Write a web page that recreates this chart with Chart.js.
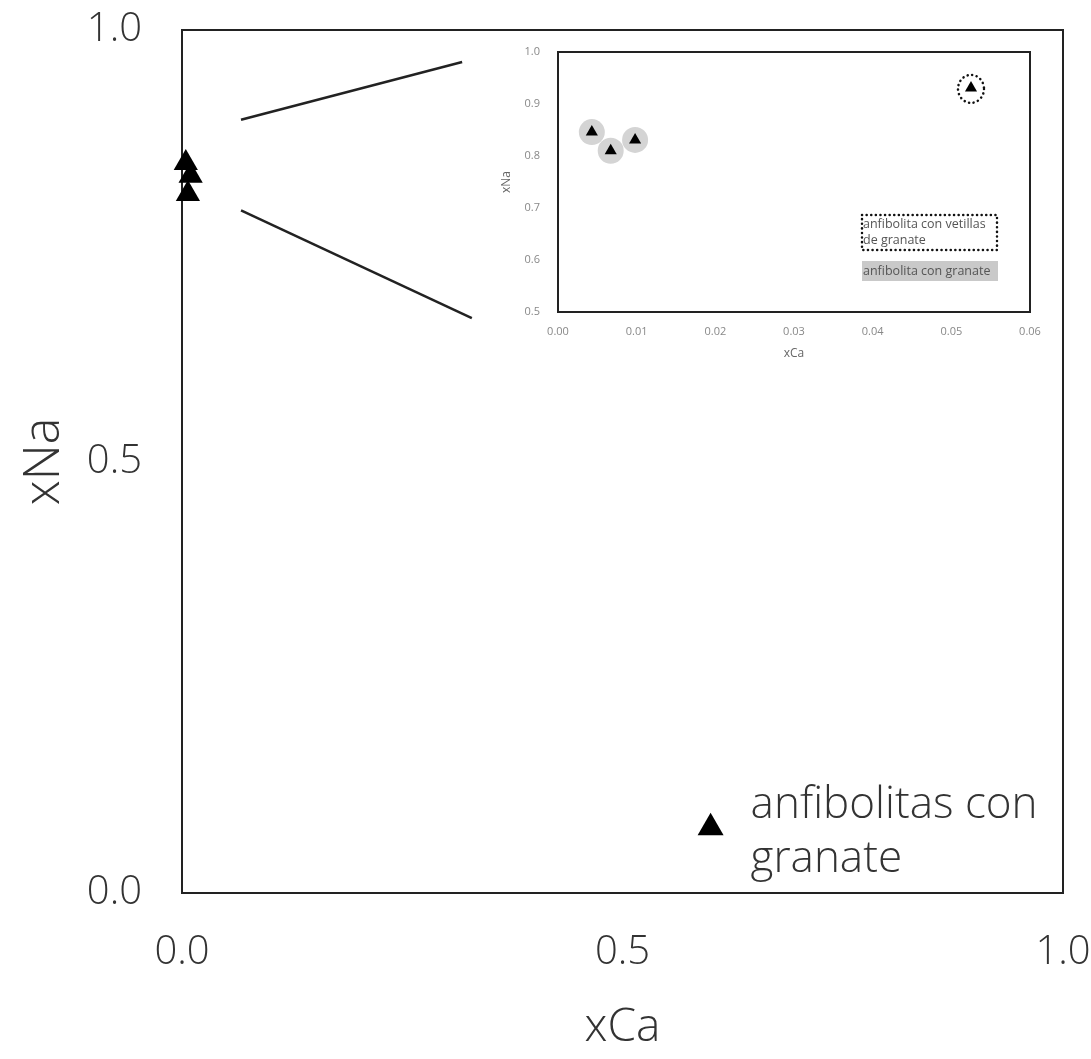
<!DOCTYPE html>
<html>
<head>
<meta charset="utf-8">
<script src="https://cdn.jsdelivr.net/npm/chart.js@4/dist/chart.umd.min.js"></script>
<style>
  body { margin: 0; background: #fff; }
  #wrap { position: relative; width: 1091px; height: 1059px; }
  #mainChart { position: absolute; left: 0; top: 0; }
  #insetChart { position: absolute; left: 470px; top: 30px; }
</style>
</head>
<body>
<div id="wrap">
  <canvas id="mainChart" width="1091" height="1059"></canvas>
  <canvas id="insetChart" width="580" height="345"></canvas>
</div>
<script>
// Data
const garnetXCa = [0.0043, 0.0067, 0.0098];
const garnetXNa = [0.846, 0.810, 0.831];
const veinXCa = [0.0525];
const veinXNa = [0.931];

const mainLegendText = ['anfibolitas con', 'granate'];
const insetVeinLegend = ['anfibolita con vetillas', 'de granate'];
const insetGarnetLegend = 'anfibolita con granate';

const toPoints = (xs, ys) => xs.map((x, i) => ({ x: x, y: ys[i] }));

const FONT = "'Open Sans', 'DejaVu Sans', sans-serif";

function drawTriangle(ctx, x, y, r) {
    ctx.beginPath();
    ctx.moveTo(x, y - r);
    ctx.lineTo(x + Math.sin(2 * Math.PI / 3) * r, y + r / 2);
    ctx.lineTo(x - Math.sin(2 * Math.PI / 3) * r, y + r / 2);
    ctx.closePath();
    ctx.fill();
}

// frame around the plot area
const framePlugin = {
    id: 'frame',
    beforeDatasetsDraw(chart, args, opts) {
        const { ctx, chartArea: a } = chart;
        ctx.save();
        ctx.strokeStyle = '#222';
        ctx.lineWidth = opts.width || 2;
        ctx.strokeRect(a.left, a.top, a.right - a.left, a.bottom - a.top);
        ctx.restore();
    }
};

// zoom lines + legend on main chart
const mainExtras = {
    id: 'mainExtras',
    afterDatasetsDraw(chart) {
        const { ctx, scales: { x, y } } = chart;
        ctx.save();
        ctx.strokeStyle = '#222';
        ctx.lineWidth = 2.5;
        [[0.067, 0.896, 0.318, 0.963], [0.067, 0.791, 0.329, 0.666]].forEach((l) => {
            ctx.beginPath();
            ctx.moveTo(x.getPixelForValue(l[0]), y.getPixelForValue(l[1]));
            ctx.lineTo(x.getPixelForValue(l[2]), y.getPixelForValue(l[3]));
            ctx.stroke();
        });
        // legend
        const lx = x.getPixelForValue(0.6);
        const ly = y.getPixelForValue(0.078);
        ctx.fillStyle = '#000';
        drawTriangle(ctx, lx, ly + 2, 15);
        ctx.fillStyle = '#333';
        ctx.font = '300 44px ' + FONT;
        ctx.textBaseline = 'middle';
        ctx.fillText(mainLegendText[0], lx + 40, ly - 20);
        ctx.fillText(mainLegendText[1], lx + 40, ly + 34);
        ctx.restore();
    }
};

new Chart(document.getElementById('mainChart'), {
    type: 'scatter',
    data: {
        datasets: [{
            label: 'anfibolitas con granate',
            data: toPoints(garnetXCa, garnetXNa),
            pointStyle: 'triangle',
            pointRadius: 14,
            backgroundColor: '#000',
            borderColor: '#000',
            borderWidth: 0,
            clip: false
        }]
    },
    options: {
        responsive: false,
        animation: false,
        layout: { padding: { top: 30, right: 28 } },
        plugins: { legend: { display: false }, tooltip: { enabled: false }, frame: { width: 2 } },
        scales: {
            x: {
                min: 0, max: 1,
                afterFit: (s) => { s.height = 166; s.paddingLeft = 0; s.paddingRight = 0; },
                grid: { display: false, drawTicks: false },
                border: { display: false },
                ticks: { stepSize: 0.5, padding: 36, color: '#333', font: { family: FONT, size: 40, weight: '300' },
                    callback: (v) => v.toFixed(1) },
                title: { display: true, text: 'xCa', color: '#333', font: { family: FONT, size: 46, weight: '300' },
                    padding: { top: 0, bottom: 4 } }
            },
            y: {
                min: 0, max: 1,
                afterFit: (s) => { s.width = 182; s.paddingTop = 0; s.paddingBottom = 0; },
                grid: { display: false, drawTicks: false },
                border: { display: false },
                ticks: { stepSize: 0.5, padding: 40, color: '#333', font: { family: FONT, size: 40, weight: '300' },
                    callback: (v) => v.toFixed(1) },
                title: { display: true, text: 'xNa', color: '#333', font: { family: FONT, size: 50, weight: '300' },
                    padding: { top: 15, bottom: 0 } }
            }
        }
    },
    plugins: [framePlugin, mainExtras]
});

// inset extras: dotted circle and legend boxes
const insetExtras = {
    id: 'insetExtras',
    afterDatasetsDraw(chart) {
        const { ctx, chartArea: a } = chart;
        const meta = chart.getDatasetMeta(2);
        ctx.save();
        ctx.strokeStyle = '#111';
        ctx.lineWidth = 2.5;
        ctx.lineCap = 'round';
        ctx.setLineDash([0.1, 4.5]);
        meta.data.forEach((p) => {
            ctx.beginPath();
            ctx.ellipse(p.x, p.y + 1, 13, 14, 0, 0, Math.PI * 2);
            ctx.stroke();
        });
        // legend: dotted box
        const bx = a.left + 304, by = a.top + 163;
        ctx.beginPath();
        ctx.rect(bx, by, 135, 35);
        ctx.stroke();
        ctx.setLineDash([]);
        // legend: gray box
        ctx.fillStyle = '#c9c9c9';
        ctx.fillRect(bx, a.top + 209, 136, 20);
        ctx.fillStyle = '#555';
        ctx.font = '12.5px ' + FONT;
        ctx.textBaseline = 'middle';
        ctx.fillText(insetVeinLegend[0], bx + 1, by + 9);
        ctx.fillText(insetVeinLegend[1], bx + 1, by + 25);
        ctx.fillText(insetGarnetLegend, bx + 1, a.top + 219);
        ctx.restore();
    }
};

const insetTickFont = { family: FONT, size: 11 };

new Chart(document.getElementById('insetChart'), {
    type: 'scatter',
    data: {
        datasets: [
            {
                label: 'halo',
                data: toPoints(garnetXCa, garnetXNa),
                pointStyle: 'circle',
                pointRadius: 13,
                backgroundColor: '#d4d4d4',
                borderWidth: 0,
                order: 3
            },
            {
                label: 'anfibolita con granate',
                data: toPoints(garnetXCa, garnetXNa),
                pointStyle: 'triangle',
                pointRadius: 7,
                backgroundColor: '#000',
                borderWidth: 0,
                order: 1
            },
            {
                label: 'anfibolita con vetillas de granate',
                data: toPoints(veinXCa, veinXNa),
                pointStyle: 'triangle',
                pointRadius: 7,
                backgroundColor: '#000',
                borderWidth: 0,
                order: 1
            }
        ]
    },
    options: {
        responsive: false,
        animation: false,
        layout: { padding: { top: 22, right: 20 } },
        plugins: { legend: { display: false }, tooltip: { enabled: false }, frame: { width: 2 } },
        scales: {
            x: {
                min: 0, max: 0.06,
                afterFit: (s) => { s.height = 63; s.paddingLeft = 0; s.paddingRight = 0; },
                grid: { display: false, drawTicks: false },
                border: { display: false },
                ticks: { stepSize: 0.01, padding: 13, color: '#888', font: insetTickFont,
                    callback: (v) => v.toFixed(2) },
                title: { display: true, text: 'xCa', color: '#666', font: { family: FONT, size: 12 },
                    padding: { top: 0, bottom: 14 } }
            },
            y: {
                min: 0.5, max: 1,
                afterFit: (s) => { s.width = 88; s.paddingTop = 0; s.paddingBottom = 0; },
                grid: { display: false, drawTicks: false },
                border: { display: false },
                ticks: { stepSize: 0.1, padding: 18, color: '#888', font: insetTickFont,
                    callback: (v) => v.toFixed(1) },
                title: { display: true, text: 'xNa', color: '#666', font: { family: FONT, size: 12 },
                    padding: { top: 29, bottom: 0 } }
            }
        }
    },
    plugins: [framePlugin, insetExtras]
});
</script>
</body>
</html>
